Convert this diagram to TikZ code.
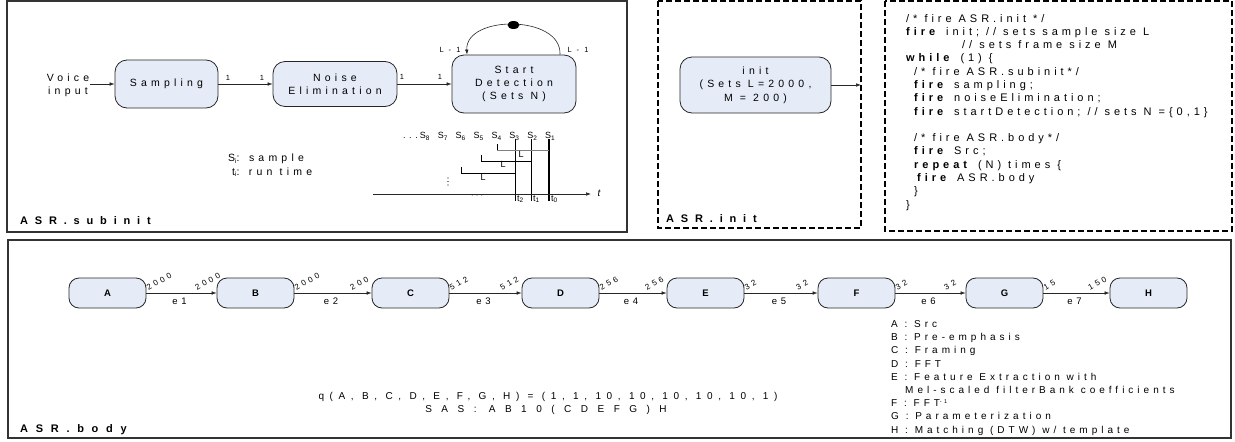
\documentclass[tikz,border=0pt]{standalone}
\usepackage{fontspec}
\setmainfont{Liberation Sans}[LetterSpace=40]
\usetikzlibrary{arrows.meta,shapes.geometric,calc}
\definecolor{boxfill}{RGB}{230,236,247}
\newcommand{\fs}[2]{\fontsize{#1}{#2}\selectfont}
\newcommand{\lsp}[1]{\addfontfeature{LetterSpace=#1}}
\newcommand{\subs}[1]{\raisebox{-1.6pt}{\fs{6.5}{7}#1}}
\newcommand{\sups}[1]{\raisebox{3.2pt}{\fs{5.5}{6}#1}}
\begin{document}
\begin{tikzpicture}[x=1pt,y=-1pt,
  font=\fs{10.5}{13},
  blk/.style={draw=black!85, fill=boxfill, rounded corners=12pt, line width=0.8pt, align=center, inner sep=2pt},
  sblk/.style={blk, rounded corners=10pt, minimum width=77pt, minimum height=30pt, font=\fs{9.5}{11}\bfseries},
  edge/.style={-{Latex[length=5pt,width=3.6pt]}, line width=0.6pt, black!85},
  frm/.style={draw=black!80, line width=1.1pt},
  dfrm/.style={draw=black, line width=1.8pt, dash pattern=on 6pt off 3pt},
  lbl/.style={font=\fs{11}{13}\bfseries\lsp{62}, anchor=west, inner sep=0pt},
  num/.style={font=\fs{7.5}{9}, inner sep=0.5pt},
  rnum/.style={font=\fs{8}{9}, inner sep=0.5pt, rotate=30, anchor=base west},
  elab/.style={font=\fs{9.5}{11}, inner sep=1pt},
  tsm/.style={font=\fs{9}{11}, inner sep=0pt},
  code/.style={font=\fs{11}{12}\lsp{36}, inner sep=0pt, anchor=base west},
  leg/.style={font=\fs{10}{11}, inner sep=0pt, anchor=base west}
]
\useasboundingbox (0,0) rectangle (1235,442);

% frames
\draw[frm] (7,1) rectangle (627,232);
\draw[dfrm] (658,1) rectangle (861,228);
\draw[dfrm] (885,1) rectangle (1232,231);
\draw[frm] (8,240) rectangle (1231,438);

\node[lbl] (lsub) at (20,221) {ASR.subinit};
\node[lbl] (linit) at (666,219) {ASR.init};
\node[lbl, font=\fs{11}{13}\bfseries\lsp{70}] (lbody) at (20,430) {ASR.body};

% ---------- ASR.subinit ----------
\node[inner sep=1pt, align=center] (voice) at (68,85.5) {Voice\\input};
\node[blk, minimum width=103pt, minimum height=48pt] (samp) at (166.5,84) {Sampling};
\node[blk, minimum width=124pt, minimum height=45pt] (noise) at (335,84) {Noise\\Elimination};
\node[blk, minimum width=124pt, minimum height=58pt] (start) at (514,84) {Start\\Detection\\(Sets N)};

\draw[edge] (voice.east |- samp.west) -- (samp.west);
\draw[edge] (samp) -- (noise);
\draw[edge] (noise) -- (start);
\node[num] (n1) at (228,78) {1};
\node[num] (n2) at (262,78) {1};
\node[num] (n3) at (402,77) {1};
\node[num] (n4) at (440,77) {1};

\coordinate (lpA) at ($(start.north)+(46,0)$);
\coordinate (lpB) at ($(start.north)+(-47,0)$);
\draw[edge] (lpA) .. controls ($(lpA)+(2,-40)$) and ($(lpB)+(-2,-40)$) .. (lpB);
\node[ellipse, fill=black, minimum width=12pt, minimum height=8pt, inner sep=0pt] (tok) at (513.5,25) {};
\node[num] (la) at (450,50) {L - 1};
\node[num] (lb) at (578,50) {L - 1};

% timing
\node[tsm, anchor=base east] (sdots) at (418,138.5) {...};
\foreach \k in {1,...,8}
  \node[tsm, anchor=base west] (s\k) at ({545-(\k-1)*17.9},138.5) {S\subs{\k}};
\draw[line width=1.3pt] (515.5,139) -- (515.5,201);
\draw[line width=1.1pt] (531.5,139) -- (531.5,201);
\draw[line width=1.1pt] (549,139) -- (549,201);
\coordinate (ax0) at (373,194);
\coordinate (ax1) at (591,194);
\draw[edge] (ax0) -- (ax1);
\node[font=\fs{10}{12}\itshape, inner sep=0pt] (tlab) at (599,193) {t};
\draw[line width=1pt] (497,144) -- (497,150);
\draw[black!50, line width=0.9pt] (497,150) -- (549,150);
\draw[line width=0.8pt] (481,155) -- (481,161) -- (531.5,161);
\draw[line width=0.8pt] (461,167) -- (461,173) -- (515.5,173);
\node[tsm] (L1) at (521,154) {L};
\node[tsm] (L2) at (503,164) {L};
\node[tsm] (L3) at (483,177) {L};
\foreach \yy in {178,181.5,185} \fill (448,\yy) circle (0.6);
\node[font=\fs{7}{8}, text=black!70, inner sep=0pt] (tdots) at (477,196) {...};
\node[tsm, anchor=west] (t2) at (517,199) {t\subs{2}};
\node[tsm, anchor=west] (t1) at (533,199) {t\subs{1}};
\node[tsm, anchor=west] (t0) at (551,199) {t\subs{0}};
\node[inner sep=0pt, anchor=west] (leg1) at (228,159) {S\subs{i}: sample};
\node[inner sep=0pt, anchor=west] (leg2) at (232,172) {t\subs{i}: run time};

% ---------- ASR.init ----------
\node[blk, minimum width=151pt, minimum height=56pt, font=\fs{10.5}{13.5}] (init) at (755.5,85) {init\\(Sets L=2000,\\M = 200)};
\coordinate (initout) at (861,85);
\draw[edge] (init.east) -- (initout);

% ---------- code ----------
\node[code] (c1) at (906,22) {/* fire ASR.init */};
\node[code] (c2) at (906,35.3) {\textbf{fire} init; // sets sample size L};
\node[code] (c3) at (962,48.6) {// sets frame size M};
\node[code] (c4) at (906,61.9) {\textbf{while} (1) \{};
\node[code] (c5) at (914,75.2) {/* fire ASR.subinit*/};
\node[code] (c6) at (914,88.5) {\textbf{fire} sampling;};
\node[code] (c7) at (914,101.7) {\textbf{fire} noiseElimination;};
\node[code] (c8) at (914,115) {\textbf{fire} startDetection; // sets N =\{0,1\}};
\node[code] (c9) at (914,141.6) {/* fire ASR.body*/};
\node[code] (c10) at (914,154.9) {\textbf{fire} Src;};
\node[code] (c11) at (914,168.2) {\textbf{repeat} (N) times \{};
\node[code] (c12) at (917,181.5) {\textbf{fire} ASR.body};
\node[code] (c13) at (914,194.8) {\}};
\node[code] (c14) at (906,208) {\}};

% ---------- ASR.body ----------
\foreach \n/\x in {A/107.5,B/255.5,C/410.5,D/560.5,E/705.5,F/856.5,G/1004.5,H/1148.5}
  \node[sblk] (\n) at (\x,293) {\n};
\foreach \s/\t/\p/\q/\e in {A/B/2000/2000/1,B/C/2000/200/2,C/D/512/512/3,D/E/256/256/4,E/F/32/32/5,F/G/32/32/6,G/H/15/150/7}{
  \draw[edge] (\s) -- (\t);
  \node[rnum] (o\e) at ($(\s.east)+(1.5,-2)$) {\p};
  \node[rnum] (i\e) at ($(\t.west)+(-20,-2)$) {\q};
  \node[elab] (e\e) at ($(\s.east)!0.5!(\t.west)+(-2,8)$) {e\e};
}

\node[elab, font=\fs{10}{11}\lsp{56}] (q) at (548,397) {q(A, B, C, D, E, F, G, H) = (1, 1, 10, 10, 10, 10, 10, 1)};
\node[elab, font=\fs{10}{11}\lsp{95}] (sas) at (546,410) {SAS: AB10(CDEFG)H};

\node[leg] (g1) at (891,327.4) {A : Src};
\node[leg] (g2) at (891,340.6) {B : Pre-emphasis};
\node[leg] (g3) at (891,353.8) {C : Framing};
\node[leg] (g4) at (891,367) {D : FFT};
\node[leg] (g5) at (891,380.2) {E : Feature Extraction with};
\node[leg] (g6) at (905,393.4) {Mel-scaled filterBank coefficients};
\node[leg] (g7) at (891,406.6) {F : FFT\sups{-1}};
\node[leg] (g8) at (891,419.8) {G : Parameterization};
\node[leg] (g9) at (891,433) {H : Matching (DTW) w/ template};
\end{tikzpicture}
\end{document}
